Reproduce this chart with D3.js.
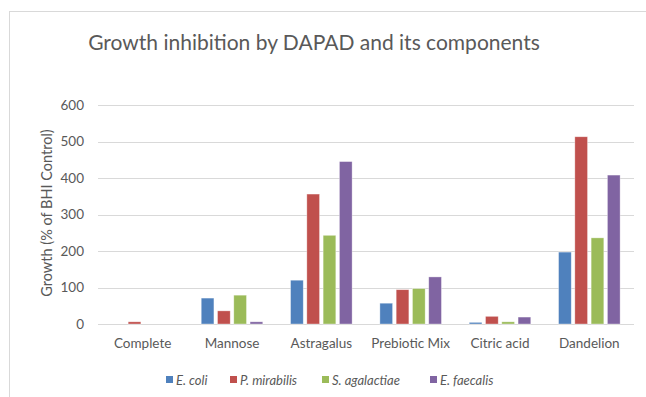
<!DOCTYPE html>
<html><head><meta charset="utf-8">
<script src="https://cdn.jsdelivr.net/npm/d3@7"></script>
<style>body{margin:0;background:#fff}svg{display:block}</style>
</head><body>
<script>
const categories = ["Complete","Mannose","Astragalus","Prebiotic Mix","Citric acid","Dandelion"];
const seriesNames = ["E. coli","P. mirabilis","S. agalactiae","E. faecalis"];
const eColi = [0, 71, 120, 57, 4.5, 197];
const pMirabilis = [6, 36, 356, 94, 21, 513];
const sAgalactiae = [0, 79, 243, 97, 6, 236];
const eFaecalis = [0, 6, 445, 129, 19, 408];
const yTicks = [0,100,200,300,400,500,600];
const colors = ["#4F81BD","#C0504D","#9BBB59","#8064A2"];
const series = [eColi, pMirabilis, sAgalactiae, eFaecalis];

const W = 646, H = 397;
const font = "Lato, 'Open Sans', sans-serif";
const svg = d3.select("body").append("svg").attr("width", W).attr("height", H);
svg.append("rect").attr("width", W).attr("height", H).attr("fill", "#fff");
svg.append("rect").attr("x", 9.5).attr("y", 11.5).attr("width", W).attr("height", H)
  .attr("fill", "none").attr("stroke", "#d9d9d9");

const x0 = d3.scaleBand().domain(categories).range([98, 634]).paddingInner(0.3).paddingOuter(0.15);
const x1 = d3.scaleBand().domain(seriesNames).range([0, x0.bandwidth()]).paddingInner(0.22).paddingOuter(0.03);
const y = d3.scaleLinear().domain([0, 600]).range([324, 105]);

// grid
svg.append("g").selectAll("line").data(yTicks).join("line")
  .attr("x1", 98).attr("x2", 634)
  .attr("y1", d => Math.round(y(d)) + 0.5).attr("y2", d => Math.round(y(d)) + 0.5)
  .attr("stroke", "#d9d9d9").attr("stroke-width", 1);

// y axis labels
const yAxis = d3.axisLeft(y).tickValues(yTicks).tickSize(0).tickPadding(0);
const gy = svg.append("g").attr("transform", "translate(84,0)").call(yAxis);
gy.select(".domain").remove();
gy.selectAll("text").attr("font-family", font).attr("font-size", 13.5).attr("fill", "#595959");

// x axis labels
const xAxis = d3.axisBottom(x0).tickSize(0).tickPadding(0);
const gx = svg.append("g").attr("transform", "translate(0,338)").call(xAxis);
gx.select(".domain").remove();
gx.selectAll("text").attr("font-family", font).attr("font-size", 13.5).attr("fill", "#595959");

// bars
const groups = svg.append("g").selectAll("g").data(categories).join("g")
  .attr("transform", d => `translate(${x0(d)},0)`);
groups.selectAll("rect").data((c, i) => series.map((s, k) => ({k, v: s[i]}))).join("rect")
  .attr("x", d => x1(seriesNames[d.k]))
  .attr("width", x1.bandwidth())
  .attr("y", d => y(d.v))
  .attr("height", d => y(0) - y(d.v))
  .attr("fill", d => colors[d.k])
  .attr("stroke", "#fff").attr("stroke-opacity", 0.5).attr("stroke-width", 0.7);

// title
svg.append("text").attr("x", 314).attr("y", 50).attr("text-anchor", "middle")
  .attr("font-family", font).attr("font-size", 21).attr("fill", "#595959")
  .text("Growth inhibition by DAPAD and its components");

// y title
svg.append("text").attr("transform", "translate(52,213) rotate(-90)").attr("text-anchor", "middle")
  .attr("font-family", font).attr("font-size", 14.5).attr("fill", "#595959")
  .text("Growth (% of BHI Control)");

// legend
const legX = [166, 230, 322, 430];
const leg = svg.append("g").selectAll("g").data(seriesNames).join("g")
  .attr("transform", (d, i) => `translate(${legX[i]},380)`);
leg.append("rect").attr("x", 0).attr("y", -4).attr("width", 7).attr("height", 7)
  .attr("fill", (d, i) => colors[i]);
leg.append("text").attr("x", 10).attr("y", 4.5)
  .attr("font-family", font).attr("font-size", 13).attr("font-style", "italic").attr("fill", "#595959")
  .text(d => d);
</script>
</body></html>
